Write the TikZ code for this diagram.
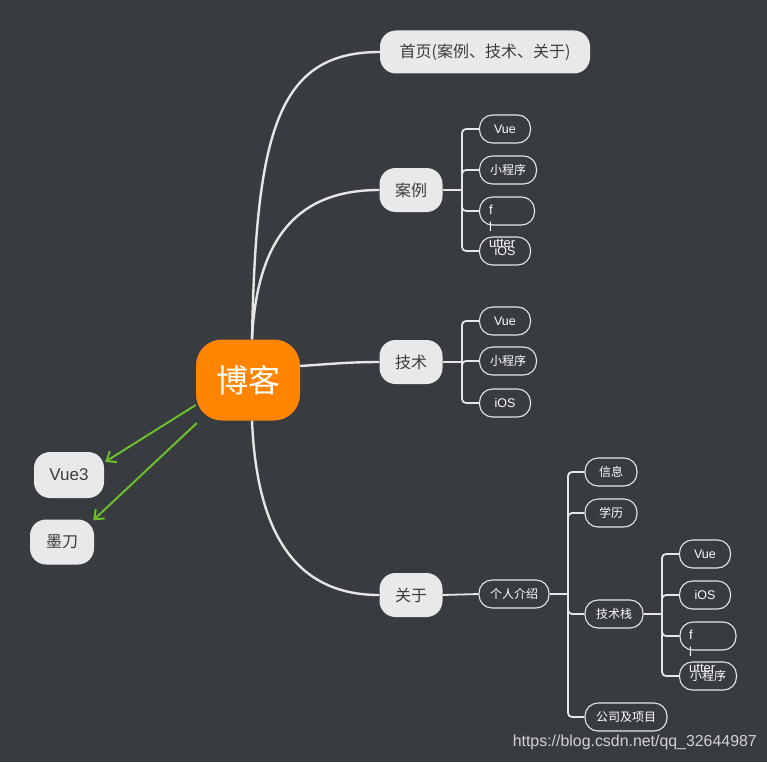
\documentclass[tikz,border=0pt]{standalone}
\usepackage{fontspec}
\setmainfont{Noto Sans CJK SC}
\newfontfamily\latinfont{Liberation Sans}
\usetikzlibrary{arrows.meta}
\definecolor{bgdark}{HTML}{383B40}
\definecolor{rootorange}{HTML}{FF8500}
\definecolor{topicgray}{HTML}{E8E9EB}
\definecolor{linkwhite}{HTML}{E6E6E6}
\definecolor{arrowgreen}{HTML}{6CBE2C}
\definecolor{textdark}{HTML}{3C3C3C}
\definecolor{markgray}{HTML}{D2D2D2}
\begin{document}
\begin{tikzpicture}[x=1pt,y=-1pt,
  rootbox/.style={fill=rootorange,rounded corners=26pt,minimum width=104pt,minimum height=81pt,inner sep=0pt,text=white,font=\fontsize{32}{36}\selectfont},
  topicbox/.style={fill=topicgray,rounded corners=16pt,minimum height=44pt,inner sep=0pt,text=textdark,font=\fontsize{16}{19}\selectfont},
  leafbox/.style={draw=linkwhite,line width=1.1pt,rounded corners=13pt,minimum height=28pt,inner sep=0pt,text=white,font=\fontsize{12}{14}\selectfont},
  latin/.style={font=\fontsize{12.5}{14}\selectfont\latinfont},
  leafnote/.style={text=white,font=\fontsize{13}{16.5}\selectfont\latinfont,align=left,inner sep=0pt},
  branch/.style={draw=linkwhite,line width=2.4pt},
  twig/.style={draw=linkwhite,line width=1.8pt,rounded corners=4pt},
  jump/.style={draw=arrowgreen,line width=2pt,-{Straight Barb[length=8pt,width=13pt]}}
]
\fill[bgdark] (0,0) rectangle (767,762);
\useasboundingbox (0,0) rectangle (767,762);
% root and main topics
\node[rootbox] (blog) at (248,380) {博客};
\node[topicbox,minimum width=210pt,minimum height=43pt] (home) at (485,52) {首页(案例、技术、关于)};
\node[topicbox,minimum width=63pt] (cases) at (411,190) {案例};
\node[topicbox,minimum width=63pt] (tech) at (411,362) {技术};
\node[topicbox,minimum width=63pt] (about) at (411,595) {关于};
\node[topicbox,minimum width=70pt,minimum height=46pt,font=\fontsize{17}{19}\selectfont\latinfont] (vuethree) at (69,475) {Vue3};
\node[topicbox,minimum width=64pt,minimum height=45pt] (modao) at (62,542) {墨刀};
% curved branches
\draw[branch] ([xshift=4pt]blog.north) .. controls (256,130) and (278,52) .. (home.west);
\draw[branch] ([xshift=4pt]blog.north) .. controls (257,235) and (300,190) .. (cases.west);
\draw[branch] ([yshift=14pt]blog.east) .. controls (330,364) and (350,362) .. (tech.west);
\draw[branch] ([xshift=4pt]blog.south) .. controls (257,540) and (300,595) .. (about.west);
% green links
\draw[jump] ([yshift=-25pt]blog.west) -- ([xshift=1pt,yshift=-10pt]vuethree.north east);
\draw[jump] ([xshift=1pt,yshift=-43pt]blog.west) -- ([xshift=-1pt,yshift=-1pt]modao.north east);
% cases leaves
\node[leafbox,latin,minimum width=51pt] (casevue) at (505,129) {Vue};
\node[leafbox,minimum width=57pt] (casemini) at (508,170) {小程序};
\node[leafbox,minimum width=55pt] (caseflut) at (507,211) {};
\node[leafbox,latin,minimum width=51pt] (caseios) at (505,251) {iOS};
\node[leafnote,anchor=north west] (caseflutxt) at (489,205) {f\\l\\utter};
\coordinate (casejoin) at (462,190);
\draw[twig] (cases.east) -- (casejoin);
\foreach \leaf in {casevue,casemini,caseflut,caseios}
  \draw[twig] (casejoin) |- (\leaf.west);
% tech leaves
\node[leafbox,latin,minimum width=51pt] (techvue) at (505,321) {Vue};
\node[leafbox,minimum width=57pt] (techmini) at (508,361) {小程序};
\node[leafbox,latin,minimum width=51pt] (techios) at (505,403) {iOS};
\coordinate (techjoin) at (462,362);
\draw[twig] (tech.east) -- (techjoin);
\foreach \leaf in {techvue,techmini,techios}
  \draw[twig] (techjoin) |- (\leaf.west);
% about
\node[leafbox,minimum width=70pt] (intro) at (514,594) {个人介绍};
\draw[twig] (about.east) -- (intro.west);
\node[leafbox,minimum width=52pt] (info) at (611,472) {信息};
\node[leafbox,minimum width=52pt] (edu) at (611,513) {学历};
\node[leafbox,minimum width=58pt] (stack) at (614,614) {技术栈};
\node[leafbox,minimum width=82pt] (work) at (626,717) {公司及项目};
\coordinate (introjoin) at (568,594);
\draw[twig] (intro.east) -- (introjoin);
\foreach \leaf in {info,edu,stack,work}
  \draw[twig] (introjoin) |- (\leaf.west);
% stack leaves
\node[leafbox,latin,minimum width=51pt] (stackvue) at (705,554) {Vue};
\node[leafbox,latin,minimum width=51pt] (stackios) at (705,595) {iOS};
\node[leafbox,minimum width=56pt] (stackflut) at (708,636) {};
\node[leafbox,minimum width=57pt] (stackmini) at (708,676) {小程序};
\node[leafnote,anchor=north west] (stackflutxt) at (689,630) {f\\l\\utter};
\coordinate (stackjoin) at (662,614);
\draw[twig] (stack.east) -- (stackjoin);
\foreach \leaf in {stackvue,stackios,stackflut,stackmini}
  \draw[twig] (stackjoin) |- (\leaf.west);
% watermark
\node[text=markgray,font=\fontsize{15.9}{17}\selectfont\latinfont,anchor=east,inner sep=0pt] (mark) at (757,742) {https://blog.csdn.net/qq\_32644987};
\end{tikzpicture}
\end{document}
